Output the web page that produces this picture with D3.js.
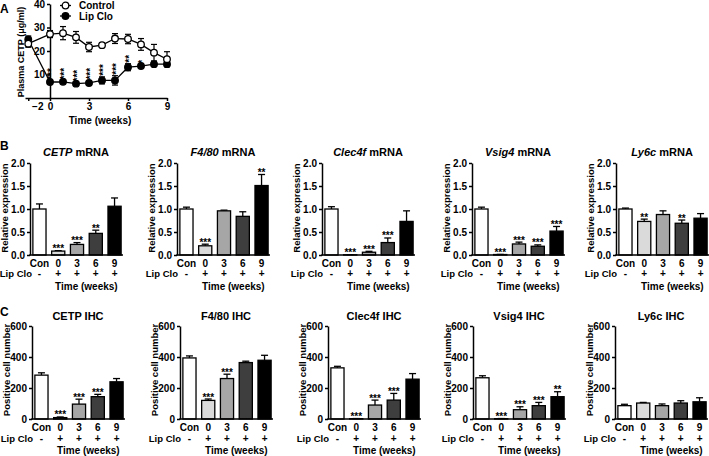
<!DOCTYPE html>
<html>
<head>
<meta charset="utf-8">
<script src="https://cdn.jsdelivr.net/npm/d3@7"></script>
<style>
body { margin: 0; background: #fff; }
svg text { font-family: "Liberation Sans", Arial, sans-serif; font-weight: bold; fill: #000; }
</style>
</head>
<body>
<svg id="fig" width="709" height="456"></svg>
<script>
// Panel A: plasma CETP over time
const weeks = [-2, 0, 1, 2, 3, 4, 5, 6, 7, 8, 9];
const weekTicks = [-2, 0, 3, 6, 9];
const plasmaTicks = [10, 20, 30, 40];
const controlMean = [23.1, 27.2, 27.6, 25.8, 21.7, 22.5, 25.3, 25.1, 22.8, 19.3, 16.5];
const controlErr = [1.5, 1.5, 2.8, 2.5, 2.0, 1.0, 2.1, 2.0, 2.5, 3.5, 3.2];
const lipMean = [24.9, 6.8, 6.9, 6.1, 6.4, 7.5, 7.5, 13.1, 13.6, 14.4, 14.4];
const lipErr = [1.5, 0.5, 0.5, 0.5, 1.0, 1.5, 2.0, 1.5, 0.5, 1.0, 1.0];
const lipStars = ["", "***", "***", "***", "***", "***", "***", "**", "*", "", ""];

// Bar panels: groups shared by B and C
const groups = ["Con", "0", "3", "6", "9"];
const lipCloSigns = ["-", "+", "+", "+", "+"];
const mrnaTicks = [0, 0.5, 1.0, 1.5, 2.0];
const ihcTicks = [0, 200, 400, 600];

// B: mRNA relative expression
const cetpMrna = [1.0, 0.085, 0.23, 0.47, 1.06];
const cetpMrnaErr = [0.11, 0.01, 0.04, 0.07, 0.18];
const cetpMrnaStars = ["", "***", "***", "**", ""];
const f480Mrna = [1.0, 0.2, 0.96, 0.84, 1.51];
const f480MrnaErr = [0.04, 0.035, 0.015, 0.1, 0.24];
const f480MrnaStars = ["", "***", "", "", "**"];
const clec4fMrna = [1.0, 0.005, 0.06, 0.27, 0.73];
const clec4fMrnaErr = [0.05, 0.003, 0.02, 0.1, 0.23];
const clec4fMrnaStars = ["", "***", "***", "***", ""];
const vsig4Mrna = [1.0, 0.01, 0.24, 0.19, 0.52];
const vsig4MrnaErr = [0.04, 0.003, 0.04, 0.03, 0.1];
const vsig4MrnaStars = ["", "***", "***", "***", "***"];
const ly6cMrna = [1.0, 0.73, 0.88, 0.69, 0.8];
const ly6cMrnaErr = [0.02, 0.05, 0.08, 0.07, 0.1];
const ly6cMrnaStars = ["", "**", "", "**", ""];

// C: IHC positive cell number
const cetpIhc = [283, 9, 96, 144, 240];
const cetpIhcErr = [15, 4, 32, 15, 21];
const cetpIhcStars = ["", "***", "***", "***", ""];
const f480Ihc = [394, 120, 261, 364, 379];
const f480IhcErr = [13, 9, 28, 9, 32];
const f480IhcStars = ["", "***", "***", "", ""];
const clec4fIhc = [330, 2, 90, 122, 257];
const clec4fIhcErr = [10, 1, 32, 43, 36];
const clec4fIhcStars = ["", "***", "***", "***", ""];
const vsig4Ihc = [266, 2, 60, 86, 144];
const vsig4IhcErr = [13, 1, 19, 21, 32];
const vsig4IhcStars = ["", "***", "***", "***", "**"];
const ly6cIhc = [86, 103, 86, 103, 111];
const ly6cIhcErr = [9, 4, 11, 15, 26];
const ly6cIhcStars = ["", "", "", "", ""];

// bar colours for Con, 0, 3, 6, 9 weeks
const barFills = ["#ffffff", "#dadada", "#a6a6a6", "#3e3e3e", "#000000"];

const svg = d3.select("#fig");

// little helper to style an axis group
function styleAxis(g, size) {
    g.attr("font-size", size);
    g.selectAll("path, line").attr("stroke", "#000").attr("stroke-width", 1.5);
}

// ---------- Panel A ----------
const xA = d3.scaleLinear().domain([-2.3, 0, 9]).range([25, 50, 167]);
const yA = d3.scaleLinear().domain([0, 40]).range([98, 4]);

svg.append("text").attr("x", 0).attr("y", 13).attr("font-size", 12).text("A");

const xAxisA = d3.axisBottom(xA).tickValues(weekTicks).tickSize(3).tickSizeOuter(0).tickPadding(2);
const gxA = svg.append("g").attr("transform", "translate(0,98)").call(xAxisA);
styleAxis(gxA, 10);
// the -2 label sits close to the 0 label in the original
gxA.selectAll(".tick text").filter(d => d === -2).attr("dx", 9);

const yAxisA = d3.axisLeft(yA).tickValues(plasmaTicks).tickSize(3).tickSizeOuter(0).tickPadding(2);
const gyA = svg.append("g").attr("transform", "translate(50,0)").call(yAxisA);
styleAxis(gyA, 10);

svg.append("text")
    .attr("transform", "translate(21,52) rotate(-90)")
    .attr("text-anchor", "middle").attr("dy", "0.35em")
    .attr("font-size", 9)
    .text("Plasma CETP (\u03bcg/ml)");

svg.append("text").attr("x", 100).attr("y", 124).attr("text-anchor", "middle")
    .attr("font-size", 10).text("Time (weeks)");

function drawSeries(mean, err, filled) {
    const pts = weeks.map((w, i) => ({ w: w, m: mean[i], e: err[i] }));
    const line = d3.line().x(d => xA(d.w)).y(d => yA(d.m));
    svg.append("path").datum(pts).attr("d", line)
        .attr("fill", "none").attr("stroke", "#000").attr("stroke-width", 1.3);
    const eb = svg.append("g").attr("stroke", "#000").attr("stroke-width", 1.2);
    pts.forEach(d => {
        const cx = xA(d.w);
        eb.append("line").attr("x1", cx).attr("x2", cx).attr("y1", yA(d.m - d.e)).attr("y2", yA(d.m + d.e));
        eb.append("line").attr("x1", cx - 3).attr("x2", cx + 3).attr("y1", yA(d.m + d.e)).attr("y2", yA(d.m + d.e));
        eb.append("line").attr("x1", cx - 3).attr("x2", cx + 3).attr("y1", yA(d.m - d.e)).attr("y2", yA(d.m - d.e));
    });
    svg.append("g").selectAll("circle").data(pts).join("circle")
        .attr("cx", d => xA(d.w)).attr("cy", d => yA(d.m)).attr("r", 3.3)
        .attr("fill", filled ? "#000" : "#fff").attr("stroke", "#000").attr("stroke-width", 1.3);
}
drawSeries(lipMean, lipErr, true);
drawSeries(controlMean, controlErr, false);

// rotated significance stars over the Lip Clo points
weeks.forEach((w, i) => {
    if (!lipStars[i]) return;
    svg.append("text")
        .attr("transform", `translate(${xA(w) + 5},${yA(lipMean[i] + lipErr[i]) - 1}) rotate(-90)`)
        .attr("font-size", 10)
        .text(lipStars[i]);
});

// legend
const legend = [{ label: "Control", filled: false, y: 5.5 }, { label: "Lip Clo", filled: true, y: 16 }];
legend.forEach(l => {
    svg.append("line").attr("x1", 60).attr("x2", 71).attr("y1", l.y).attr("y2", l.y)
        .attr("stroke", "#000").attr("stroke-width", 1.3);
    svg.append("circle").attr("cx", 65.5).attr("cy", l.y).attr("r", 3.3)
        .attr("fill", l.filled ? "#000" : "#fff").attr("stroke", "#000").attr("stroke-width", 1.3);
    svg.append("text").attr("x", 79).attr("y", l.y + 3.5).attr("font-size", 10).text(l.label);
});

// ---------- Panels B and C ----------
svg.append("text").attr("x", 0).attr("y", 150).attr("font-size", 12).text("B");
svg.append("text").attr("x", 0).attr("y", 316).attr("font-size", 12).text("C");

const rowB = { top: 163, bottom: 255, titleY: 156, catY: 266.5, lipY: 277, timeY: 290,
    domain: [0, 2], ticks: mrnaTicks, format: d3.format(".1f"), yLabel: "Relative expression", labelY: 208 };
const rowC = { top: 326, bottom: 419, titleY: 320, catY: 430.5, lipY: 441.5, timeY: 454,
    domain: [0, 600], ticks: ihcTicks, format: d3.format("d"), yLabel: "Positive cell number", labelY: 370 };

function barPanel(row, x0, gene, suffix, italic, mean, err, stars) {
    const g = svg.append("g");
    const x = d3.scaleBand().domain(groups).range([x0 + 1, x0 + 93]).paddingInner(0.3).paddingOuter(0.1);
    const y = d3.scaleLinear().domain(row.domain).range([row.bottom, row.top]);

    // title
    const t = g.append("text").attr("x", x0 + 46).attr("y", row.titleY)
        .attr("text-anchor", "middle").attr("font-size", 11);
    t.append("tspan").attr("font-style", italic ? "italic" : "normal").text(gene);
    t.append("tspan").text(" " + suffix);

    // bars
    const data = groups.map((c, i) => ({ c: c, m: mean[i], e: err[i], s: stars[i], f: barFills[i], sign: lipCloSigns[i] }));
    data.forEach(d => {
        const cx = x(d.c) + x.bandwidth() / 2;
        const top = y(d.m + d.e);
        g.append("line").attr("x1", cx).attr("x2", cx).attr("y1", y(d.m)).attr("y2", top)
            .attr("stroke", "#000").attr("stroke-width", 1.3);
        g.append("line").attr("x1", cx - 3.5).attr("x2", cx + 3.5).attr("y1", top).attr("y2", top)
            .attr("stroke", "#000").attr("stroke-width", 1.3);
        g.append("rect").attr("x", x(d.c)).attr("width", x.bandwidth())
            .attr("y", y(d.m)).attr("height", y(0) - y(d.m))
            .attr("fill", d.f).attr("stroke", "#000").attr("stroke-width", 1.3);
        if (d.s) {
            g.append("text").attr("x", cx).attr("y", top + 1.5).attr("text-anchor", "middle")
                .attr("font-size", 10).text(d.s);
        }
        g.append("text").attr("x", cx).attr("y", row.catY).attr("text-anchor", "middle")
            .attr("font-size", 10).text(d.c);
        g.append("text").attr("x", cx).attr("y", row.lipY).attr("text-anchor", "middle")
            .attr("font-size", 10).text(d.sign);
    });

    // axes
    const yAxis = d3.axisLeft(y).tickValues(row.ticks).tickFormat(row.format)
        .tickSize(3).tickSizeOuter(0).tickPadding(2);
    const gy = g.append("g").attr("transform", `translate(${x0},0)`).call(yAxis);
    styleAxis(gy, 10);
    g.append("line").attr("x1", x0 - 0.75).attr("x2", x0 + 93).attr("y1", row.bottom).attr("y2", row.bottom)
        .attr("stroke", "#000").attr("stroke-width", 1.5);

    g.append("text")
        .attr("transform", `translate(${x0 - 25},${row.labelY}) rotate(-90)`)
        .attr("text-anchor", "middle").attr("dy", "0.35em").attr("font-size", 9.5)
        .text(row.yLabel);
    g.append("text").attr("x", Math.max(x0 + 1, 32)).attr("y", row.lipY).attr("text-anchor", "end")
        .attr("font-size", 9.5).text("Lip Clo");
    const tx = (x(groups[1]) + x(groups[4]) + x.bandwidth()) / 2;
    g.append("text").attr("x", tx).attr("y", row.timeY).attr("text-anchor", "middle")
        .attr("font-size", 10).text("Time (weeks)");
}

barPanel(rowB, 30, "CETP", "mRNA", true, cetpMrna, cetpMrnaErr, cetpMrnaStars);
barPanel(rowB, 177, "F4/80", "mRNA", true, f480Mrna, f480MrnaErr, f480MrnaStars);
barPanel(rowB, 322, "Clec4f", "mRNA", true, clec4fMrna, clec4fMrnaErr, clec4fMrnaStars);
barPanel(rowB, 472, "Vsig4", "mRNA", true, vsig4Mrna, vsig4MrnaErr, vsig4MrnaStars);
barPanel(rowB, 616, "Ly6c", "mRNA", true, ly6cMrna, ly6cMrnaErr, ly6cMrnaStars);

barPanel(rowC, 32, "CETP", "IHC", false, cetpIhc, cetpIhcErr, cetpIhcStars);
barPanel(rowC, 180, "F4/80", "IHC", false, f480Ihc, f480IhcErr, f480IhcStars);
barPanel(rowC, 328, "Clec4f", "IHC", false, clec4fIhc, clec4fIhcErr, clec4fIhcStars);
barPanel(rowC, 473, "Vsig4", "IHC", false, vsig4Ihc, vsig4IhcErr, vsig4IhcStars);
barPanel(rowC, 615, "Ly6c", "IHC", false, ly6cIhc, ly6cIhcErr, ly6cIhcStars);
</script>
</body>
</html>
